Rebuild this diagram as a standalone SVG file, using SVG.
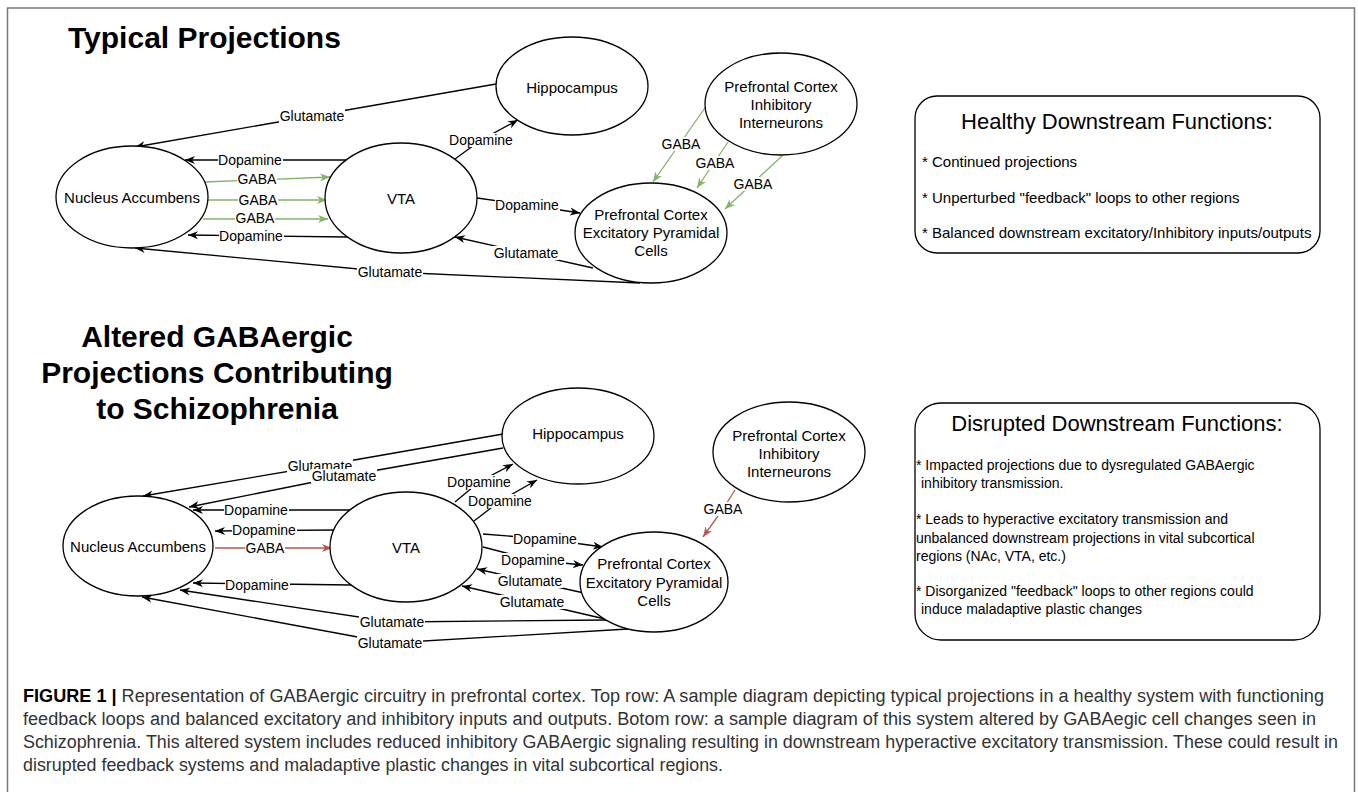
<svg xmlns="http://www.w3.org/2000/svg" width="1358" height="792" viewBox="0 0 1358 792">
<defs>
<style>
.node{fill:#fff;stroke:#000;stroke-width:1.3}
.nt{font-family:"Liberation Sans",Arial,sans-serif;font-size:15px;text-anchor:middle;fill:#000}
.title{font-family:"Liberation Sans",Arial,sans-serif;font-size:30px;font-weight:bold;fill:#000}
.c{fill:none;stroke:#000;stroke-width:1.3}
.cb{marker-end:url(#ab)}
.cg{fill:none;stroke:#82b366;stroke-width:1.3;marker-end:url(#ag)}
.cr{fill:none;stroke:#b85450;stroke-width:1.3;marker-end:url(#ar)}
.lt{font-family:"Liberation Sans",Arial,sans-serif;font-size:14px;text-anchor:middle;fill:#000}
.lb{fill:#fff}
.box{fill:#fff;stroke:#000;stroke-width:1.3}
.bt{font-family:"Liberation Sans",Arial,sans-serif;font-size:22px;text-anchor:middle;fill:#000}
.b15{font-family:"Liberation Sans",Arial,sans-serif;font-size:15px;fill:#000}
.b14{font-family:"Liberation Sans",Arial,sans-serif;font-size:14px;fill:#000}
.cap{font-family:"Liberation Sans",Arial,sans-serif;font-size:18px;fill:#333}
</style>
<marker id="ab" markerUnits="userSpaceOnUse" markerWidth="11" markerHeight="9" refX="10" refY="4" orient="auto" viewBox="0 0 11 8"><path d="M0,0 L10,4 L0,8 L3,4 z" fill="#000"/></marker>
<marker id="ag" markerUnits="userSpaceOnUse" markerWidth="11" markerHeight="9" refX="10" refY="4" orient="auto" viewBox="0 0 11 8"><path d="M0,0 L10,4 L0,8 L3,4 z" fill="#82b366"/></marker>
<marker id="ar" markerUnits="userSpaceOnUse" markerWidth="11" markerHeight="9" refX="10" refY="4" orient="auto" viewBox="0 0 11 8"><path d="M0,0 L10,4 L0,8 L3,4 z" fill="#b85450"/></marker>
</defs>
<rect x="0" y="0" width="1358" height="792" fill="#fff"/>
<rect x="7.5" y="8" width="1347" height="800" fill="none" stroke="#777" stroke-width="1.5"/>

<g id="title-top"><text class="title" x="68" y="48">Typical Projections</text></g>
<g id="title-bottom"><text class="title" text-anchor="middle" x="217" y="347">Altered GABAergic</text><text class="title" text-anchor="middle" x="217" y="383">Projections Contributing</text><text class="title" text-anchor="middle" x="217" y="419">to Schizophrenia</text></g>

<g id="connectors">
<!-- top -->
<path class="c cb" d="M496,84 L135,147"/>
<path class="c cb" d="M347,160 L185,160"/>
<path class="cg" d="M205,182 L330,177"/>
<path class="cg" d="M208,200 L327,200"/>
<path class="cg" d="M203,219 L328,219"/>
<path class="c cb" d="M347,237 L188,235"/>
<path class="c cb" d="M640,283 L390,272 L135,248"/>
<path class="c cb" d="M593,268 L526,253 L455,237"/>
<path class="c cb" d="M477,198 L527,205 L580,213"/>
<path class="c cb" d="M455,159 L481,140 L518,120"/>
<path class="cg" d="M707,105 L653,182"/>
<path class="cg" d="M728,142 L697,188"/>
<path class="cg" d="M782,156 L725,209"/>
<!-- bottom -->
<path class="c cb" d="M503,434 L320,466 L143,496"/>
<path class="c cb" d="M503,448 L344,476 L189,507"/>
<path class="c cb" d="M352,510 L193,510"/>
<path class="c cb" d="M335,530 L215,531"/>
<path class="cr" d="M215,548 L332,548"/>
<path class="c cb" d="M352,585 L193,583"/>
<path class="c cb" d="M606,620 L392,622 L180,590"/>
<path class="c cb" d="M628,629 L390,643 L142,597"/>
<path class="c cb" d="M455,502 L479,482 L513,464"/>
<path class="c cb" d="M474,521 L500,501 L537,480"/>
<path class="c cb" d="M483,534 L545,539 L603,547"/>
<path class="c cb" d="M483,547 L533,560 L583,565"/>
<path class="c cb" d="M584,593 L530,581 L477,569"/>
<path class="c cb" d="M605,619 L532,602 L462,586"/>
<path class="cr" d="M735,490 L723,509 L703,537"/>

<!-- labels top -->
<rect class="lb" x="279" y="109" width="66" height="14"/><text class="lt" x="312" y="121">Glutamate</text>
<rect class="lb" x="218" y="153" width="65" height="14"/><text class="lt" x="250" y="165">Dopamine</text>
<rect class="lb" x="237" y="172" width="40" height="14"/><text class="lt" x="257" y="184">GABA</text>
<rect class="lb" x="238" y="193" width="40" height="14"/><text class="lt" x="258" y="205">GABA</text>
<rect class="lb" x="235" y="211" width="40" height="14"/><text class="lt" x="255" y="223">GABA</text>
<rect class="lb" x="219" y="229" width="65" height="14"/><text class="lt" x="251" y="241">Dopamine</text>
<rect class="lb" x="357" y="265" width="66" height="14"/><text class="lt" x="390" y="277">Glutamate</text>
<rect class="lb" x="493" y="246" width="66" height="14"/><text class="lt" x="526" y="258">Glutamate</text>
<rect class="lb" x="495" y="198" width="65" height="14"/><text class="lt" x="527" y="210">Dopamine</text>
<rect class="lb" x="449" y="133" width="65" height="14"/><text class="lt" x="481" y="145">Dopamine</text>
<rect class="lb" x="661" y="137" width="40" height="14"/><text class="lt" x="681" y="149">GABA</text>
<rect class="lb" x="695" y="156" width="40" height="14"/><text class="lt" x="715" y="168">GABA</text>
<rect class="lb" x="733" y="177" width="40" height="14"/><text class="lt" x="753" y="189">GABA</text>
<!-- labels bottom -->
<rect class="lb" x="287" y="459" width="66" height="14"/><text class="lt" x="320" y="471">Glutamate</text>
<rect class="lb" x="311" y="469" width="66" height="14"/><text class="lt" x="344" y="481">Glutamate</text>
<rect class="lb" x="224" y="503" width="65" height="14"/><text class="lt" x="256" y="515">Dopamine</text>
<rect class="lb" x="232" y="523" width="65" height="14"/><text class="lt" x="264" y="535">Dopamine</text>
<rect class="lb" x="245" y="541" width="40" height="14"/><text class="lt" x="265" y="553">GABA</text>
<rect class="lb" x="225" y="578" width="65" height="14"/><text class="lt" x="257" y="590">Dopamine</text>
<rect class="lb" x="359" y="615" width="66" height="14"/><text class="lt" x="392" y="627">Glutamate</text>
<rect class="lb" x="357" y="636" width="66" height="14"/><text class="lt" x="390" y="648">Glutamate</text>
<rect class="lb" x="447" y="475" width="65" height="14"/><text class="lt" x="479" y="487">Dopamine</text>
<rect class="lb" x="468" y="494" width="65" height="14"/><text class="lt" x="500" y="506">Dopamine</text>
<rect class="lb" x="513" y="532" width="65" height="14"/><text class="lt" x="545" y="544">Dopamine</text>
<rect class="lb" x="501" y="553" width="65" height="14"/><text class="lt" x="533" y="565">Dopamine</text>
<rect class="lb" x="497" y="574" width="66" height="14"/><text class="lt" x="530" y="586">Glutamate</text>
<rect class="lb" x="499" y="595" width="66" height="14"/><text class="lt" x="532" y="607">Glutamate</text>
<rect class="lb" x="703" y="502" width="40" height="14"/><text class="lt" x="723" y="514">GABA</text>
</g>

<!-- top nodes -->
<g id="top-nac"><ellipse class="node" cx="132" cy="197" rx="76" ry="51"/><text class="nt" x="132" y="203">Nucleus Accumbens</text></g>
<g id="top-vta"><ellipse class="node" cx="401" cy="198" rx="76" ry="55"/><text class="nt" x="401" y="204">VTA</text></g>
<g id="top-hippo"><ellipse class="node" cx="572" cy="86" rx="76" ry="49"/><text class="nt" x="572" y="93">Hippocampus</text></g>
<g id="top-pfc-exc"><ellipse class="node" cx="651" cy="233" rx="76" ry="50"/><text class="nt" x="651" y="220">Prefrontal Cortex</text><text class="nt" x="651" y="238">Excitatory Pyramidal</text><text class="nt" x="651" y="256">Cells</text></g>
<g id="top-pfc-inh"><ellipse class="node" cx="781" cy="104" rx="76" ry="51"/><text class="nt" x="781" y="92">Prefrontal Cortex</text><text class="nt" x="781" y="110">Inhibitory</text><text class="nt" x="781" y="128">Interneurons</text></g>
<g id="healthy-box"><rect class="box" x="915" y="96" width="405" height="157" rx="22"/><text class="bt" x="1117" y="129">Healthy Downstream Functions:</text>
<text class="b15" x="922" y="167">* Continued projections</text>
<text class="b15" x="922" y="203">* Unperturbed "feedback" loops to other regions</text>
<text class="b15" x="922" y="238">* Balanced downstream excitatory/Inhibitory inputs/outputs</text></g>

<!-- bottom nodes -->
<g id="bot-nac"><ellipse class="node" cx="138" cy="546" rx="75" ry="50"/><text class="nt" x="138" y="552">Nucleus Accumbens</text></g>
<g id="bot-vta"><ellipse class="node" cx="406" cy="547" rx="76" ry="55"/><text class="nt" x="406" y="553">VTA</text></g>
<g id="bot-hippo"><ellipse class="node" cx="578" cy="436" rx="76" ry="48"/><text class="nt" x="578" y="439">Hippocampus</text></g>
<g id="bot-pfc-exc"><ellipse class="node" cx="654" cy="582" rx="74" ry="50"/><text class="nt" x="654" y="569">Prefrontal Cortex</text><text class="nt" x="654" y="588">Excitatory Pyramidal</text><text class="nt" x="654" y="606">Cells</text></g>
<g id="bot-pfc-inh"><ellipse class="node" cx="789" cy="452" rx="76" ry="50"/><text class="nt" x="789" y="441">Prefrontal Cortex</text><text class="nt" x="789" y="459">Inhibitory</text><text class="nt" x="789" y="477">Interneurons</text></g>
<g id="disrupted-box"><rect class="box" x="915" y="403" width="405" height="237" rx="26"/><text class="bt" x="1117" y="431">Disrupted Downstream Functions:</text>
<text class="b14" x="916" y="470">* Impacted projections due to dysregulated GABAergic</text>
<text class="b14" x="921" y="488">inhibitory transmission.</text>
<text class="b14" x="916" y="524">* Leads to hyperactive excitatory transmission and</text>
<text class="b14" x="916" y="543">unbalanced downstream projections in vital subcortical</text>
<text class="b14" x="916" y="561">regions (NAc, VTA, etc.)</text>
<text class="b14" x="916" y="596">* Disorganized "feedback" loops to other regions could</text>
<text class="b14" x="921" y="614">induce maladaptive plastic changes</text></g>

<g id="caption">
<text class="cap" x="23" y="702" textLength="1301" lengthAdjust="spacingAndGlyphs"><tspan font-weight="bold" fill="#000">FIGURE 1 | </tspan>Representation of GABAergic circuitry in prefrontal cortex. Top row: A sample diagram depicting typical projections in a healthy system with functioning</text>
<text class="cap" x="23" y="725" textLength="1293" lengthAdjust="spacingAndGlyphs">feedback loops and balanced excitatory and inhibitory inputs and outputs. Botom row: a sample diagram of this system altered by GABAegic cell changes seen in</text>
<text class="cap" x="23" y="748" textLength="1315" lengthAdjust="spacingAndGlyphs">Schizophrenia. This altered system includes reduced inhibitory GABAergic signaling resulting in downstream hyperactive excitatory transmission. These could result in</text>
<text class="cap" x="23" y="771" textLength="700" lengthAdjust="spacingAndGlyphs">disrupted feedback systems and maladaptive plastic changes in vital subcortical regions.</text>
</g>
</svg>
